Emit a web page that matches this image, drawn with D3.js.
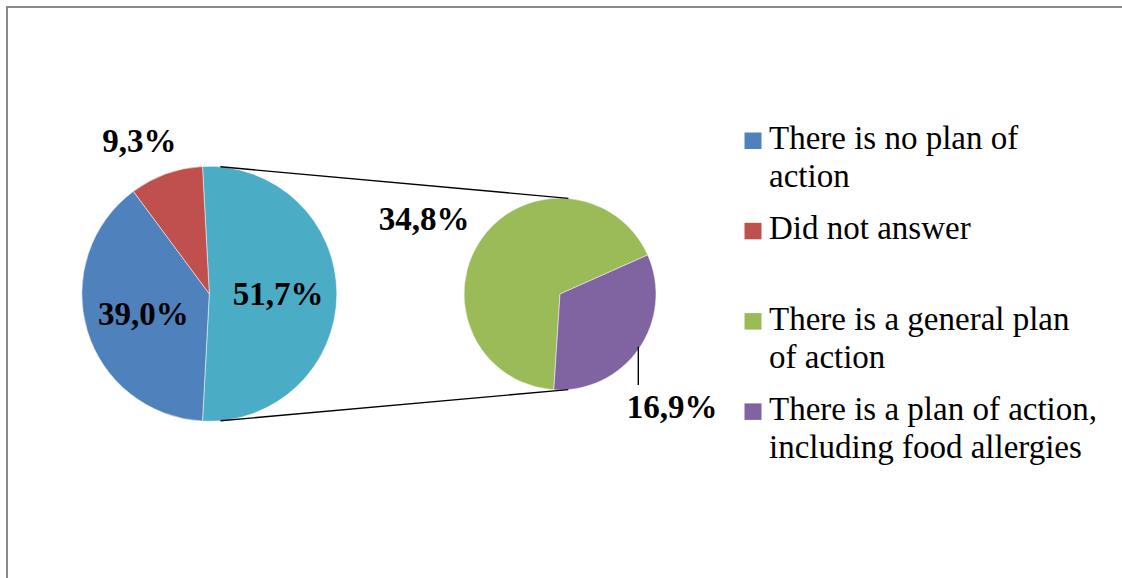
<!DOCTYPE html>
<html>
<head>
<meta charset="utf-8">
<script src="https://cdn.jsdelivr.net/npm/d3@7"></script>
<style>
  body { margin: 0; background: #fff; }
</style>
</head>
<body>
<div id="chart"></div>
<script>
// main pie: the last value is the "other" slice that gets split in the second pie
var mainLabels = ["There is a plan", "There is no plan of action", "Did not answer"];
var mainValues = [51.7, 39.0, 9.3];
var mainColors = ["#4BACC6", "#4F81BD", "#C0504D"];

var subLabels = ["There is a general plan of action", "There is a plan of action, including food allergies"];
var subValues = [34.8, 16.9];
var subColors = ["#9BBB59", "#8064A2"];

var legendLabels = [
  ["There is no plan of", "action"],
  ["Did not answer"],
  ["There is a general plan", "of action"],
  ["There is a plan of action,", "including food allergies"]
];
var legendColors = ["#4F81BD", "#C0504D", "#9BBB59", "#8064A2"];

var width = 1122, height = 578;
var left = {cx: 209.3, cy: 293.8, r: 127.5},
    right = {cx: 560, cy: 294, r: 96};

var fmt = function(v) { return v.toFixed(1).replace(".", ",") + "%"; };
var rad = Math.PI / 180;

var svg = d3.select("#chart")
  .append("svg")
    .attr("width", width)
    .attr("height", height);

// chart area border (only top and left visible)
svg.append("path")
  .attr("d", "M7,578 V7 H1122")
  .attr("fill", "none")
  .attr("stroke", "#898989")
  .attr("stroke-width", 2);

// left pie, first slice centred on the right side
var otherFrac = mainValues[0] / d3.sum(mainValues);
var pieL = d3.pie().sort(null)
  .startAngle(Math.PI / 2 - otherFrac * Math.PI)
  .endAngle(Math.PI / 2 - otherFrac * Math.PI + 2 * Math.PI);
var arcsL = pieL(mainValues);
var arcL = d3.arc().innerRadius(0).outerRadius(left.r);

var gL = svg.append("g")
  .attr("transform", "translate(" + left.cx + "," + left.cy + ")");
gL.selectAll("path")
  .data(arcsL)
  .enter()
  .append("path")
    .attr("d", arcL)
    .attr("fill", function(d, i) { return mainColors[i]; })
    .attr("stroke", "#fff")
    .attr("stroke-width", 0.5);

// right pie
var purpleStart = 66 * rad;
var subFrac = subValues[0] / d3.sum(subValues);
var pieR = d3.pie().sort(null)
  .startAngle(purpleStart - subFrac * 2 * Math.PI)
  .endAngle(purpleStart - subFrac * 2 * Math.PI + 2 * Math.PI);
var arcsR = pieR(subValues);
var arcR = d3.arc().innerRadius(0).outerRadius(right.r);

var gR = svg.append("g")
  .attr("transform", "translate(" + right.cx + "," + right.cy + ")");
gR.selectAll("path")
  .data(arcsR)
  .enter()
  .append("path")
    .attr("d", arcR)
    .attr("fill", function(d, i) { return subColors[i]; })
    .attr("stroke", "#fff")
    .attr("stroke-width", 0.5);

// connector lines between the pies
var a = 5 * rad;
function pt(p, ang) { return [p.cx + p.r * Math.sin(ang), p.cy - p.r * Math.cos(ang)]; }
[[a, a], [Math.PI - a, Math.PI - a]].forEach(function(pair) {
  var p1 = pt(left, pair[0]), p2 = pt(right, pair[1]);
  svg.append("line")
    .attr("x1", p1[0]).attr("y1", p1[1])
    .attr("x2", p2[0]).attr("y2", p2[1])
    .attr("stroke", "#000")
    .attr("stroke-width", 1.4);
});

var labelFont = "'Liberation Serif', 'Times New Roman', serif";

// labels inside the left pie
var inner = d3.arc().innerRadius(left.r * 0.54).outerRadius(left.r * 0.54);
gL.selectAll("text.inside")
  .data(arcsL.slice(0, 2))
  .enter()
  .append("text")
    .attr("class", "inside")
    .attr("transform", function(d) { var c = inner.centroid(d); return "translate(" + c[0] + "," + (c[1] + 11) + ")"; })
    .attr("text-anchor", "middle")
    .style("font-family", labelFont)
    .style("font-weight", "bold")
    .style("font-size", "33px")
    .text(function(d) { return fmt(d.value); });

// outside label for the small slice
var outer = d3.arc().innerRadius(left.r * 1.27).outerRadius(left.r * 1.27);
gL.append("text")
  .attr("transform", function() { var c = outer.centroid(arcsL[2]); return "translate(" + (c[0] - 15) + "," + (c[1] + 11) + ")"; })
  .attr("text-anchor", "middle")
  .style("font-family", labelFont)
  .style("font-weight", "bold")
  .style("font-size", "33px")
  .text(fmt(mainValues[2]));

// labels of the right pie
var subPos = [[-136, -64], [112, 124]];
gR.selectAll("text.sub")
  .data(arcsR)
  .enter()
  .append("text")
    .attr("class", "sub")
    .attr("x", function(d, i) { return subPos[i][0]; })
    .attr("y", function(d, i) { return subPos[i][1]; })
    .attr("text-anchor", "middle")
    .style("font-family", labelFont)
    .style("font-weight", "bold")
    .style("font-size", "33px")
    .text(function(d) { return fmt(d.value); });

// leader line for 16,9%
gR.append("line")
  .attr("x1", 78.3).attr("y1", 52.7)
  .attr("x2", 78.3).attr("y2", 91)
  .attr("stroke", "#000")
  .attr("stroke-width", 1.4);

// legend
var legend = svg.append("g")
  .attr("transform", "translate(744.5,149)");
var items = legend.selectAll("g")
  .data(legendLabels)
  .enter()
  .append("g")
    .attr("transform", function(d, i) { return "translate(0," + (i * 90.3) + ")"; });
items.append("rect")
  .attr("x", 0)
  .attr("y", -16.5)
  .attr("width", 17)
  .attr("height", 16.5)
  .attr("fill", function(d, i) { return legendColors[i]; });
items.append("text")
  .style("font-family", labelFont)
  .style("font-size", "33px")
  .attr("fill", "#000")
  .selectAll("tspan")
  .data(function(d) { return d; })
  .enter()
  .append("tspan")
    .attr("x", 24.5)
    .attr("y", function(d, i) { return i * 38; })
    .text(function(d) { return d; });
</script>
</body>
</html>
